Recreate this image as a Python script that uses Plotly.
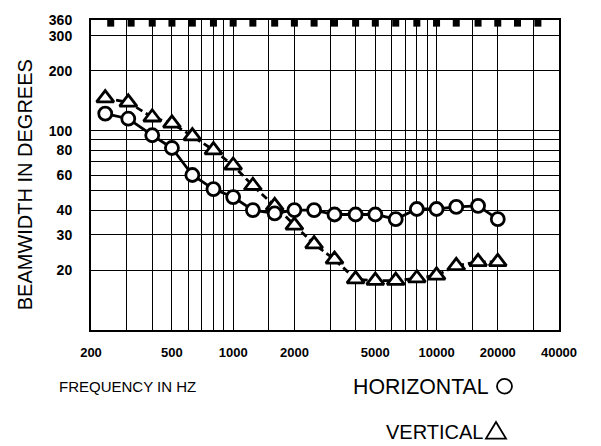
import plotly.graph_objects as go
import math

# ---- data ----
freq = [235, 305, 400, 500, 630, 800, 1000, 1250, 1600, 2000, 2500, 3150,
        4000, 5000, 6300, 8000, 10000, 12500, 16000, 20000]
horizontal = [122, 115, 95, 82, 60, 51, 46.5, 40, 38.5, 40, 40, 38,
              38, 38, 36, 40.5, 40.5, 41.5, 42, 36]
vertical = [146, 139, 117, 109, 94, 80, 67, 53, 42, 33.5, 27, 22.6,
            18, 17.7, 17.7, 18.2, 18.8, 21, 22, 22]

x_grid = [200, 300, 400, 500, 600, 700, 800, 900, 1000, 1500, 2000, 3000, 4000,
          5000, 6000, 7000, 8000, 9000, 10000, 15000, 20000, 30000, 40000]
x_labels = {200: "200", 500: "500", 1000: "1000", 2000: "2000", 5000: "5000",
            10000: "10000", 20000: "20000", 40000: "40000"}
y_grid = [10, 20, 30, 40, 50, 60, 70, 80, 90, 100, 200, 300, 360]
y_labels = {20: "20", 30: "30", 40: "40", 60: "60", 80: "80", 100: "100",
            200: "200", 300: "300", 360: "360"}
third_octave = [200, 250, 315, 400, 500, 630, 800, 1000, 1250, 1600, 2000, 2500,
                3150, 4000, 5000, 6300, 8000, 10000, 12500, 16000, 20000, 25000, 31500]

FONT = "Liberation Sans"
Y_MIN, Y_MAX = 10, 360

W, H = 601, 446
L, R, T, B = 91, 42, 13, 116
pw, ph = W - L - R, H - T - B
px_per_decade = ph / (math.log10(Y_MAX) - math.log10(Y_MIN))
# the 1/3-octave blocks sit 3 px below the top frame
mark_y = Y_MAX * 10 ** (-3.2 / px_per_decade)

fig = go.Figure()
fig.add_trace(go.Scatter(
    x=freq, y=vertical, mode="lines+markers",
    line=dict(color="black", width=2.8, dash="7px,4px"),
    marker=dict(symbol="triangle-up", size=15, color="white",
                line=dict(color="black", width=2.8)),
    showlegend=False, cliponaxis=False))
fig.add_trace(go.Scatter(
    x=freq, y=horizontal, mode="lines+markers",
    line=dict(color="black", width=2.8),
    marker=dict(symbol="circle", size=13, color="white",
                line=dict(color="black", width=2.8)),
    showlegend=False, cliponaxis=False))
fig.add_trace(go.Scatter(
    x=third_octave, y=[mark_y] * len(third_octave), mode="markers",
    marker=dict(symbol="square", size=7, color="black", line=dict(width=0)),
    showlegend=False, cliponaxis=False, hoverinfo="skip"))


def px(x):
    return (x - L) / pw


def py(y):
    return (H - B - y) / ph


fig.update_layout(
    width=W, height=H,
    margin=dict(l=L, r=R, t=T, b=B),
    paper_bgcolor="white", plot_bgcolor="white",
    xaxis=dict(type="log", range=[math.log10(200), math.log10(40000)],
               tickvals=x_grid, ticktext=[x_labels.get(v, "") for v in x_grid],
               showgrid=True, gridcolor="black", gridwidth=1.4,
               showline=True, linecolor="black", linewidth=2, mirror=True,
               ticks="", ticklabelstandoff=9, zeroline=False,
               tickfont=dict(family=FONT, size=13, color="black", weight="bold")),
    yaxis=dict(type="log", range=[math.log10(Y_MIN), math.log10(Y_MAX)],
               tickvals=y_grid, ticktext=[y_labels.get(v, "") for v in y_grid],
               showgrid=True, gridcolor="black", gridwidth=1.4,
               showline=True, linecolor="black", linewidth=2, mirror=True,
               ticks="", ticklabelstandoff=14, zeroline=False,
               tickfont=dict(family=FONT, size=14, color="black", weight="bold")),
)

fig.add_annotation(text="BEAMWIDTH IN DEGREES", xref="paper", yref="paper",
                   x=px(25), y=py(182), textangle=-90, showarrow=False,
                   xanchor="center", yanchor="middle",
                   font=dict(family=FONT, size=20, color="black"))
fig.add_annotation(text="FREQUENCY IN HZ", xref="paper", yref="paper",
                   x=px(57), y=py(388), showarrow=False,
                   xanchor="left", yanchor="middle",
                   font=dict(family=FONT, size=15, color="black"))
fig.add_annotation(text="HORIZONTAL", xref="paper", yref="paper",
                   x=px(351), y=py(388), showarrow=False,
                   xanchor="left", yanchor="middle",
                   font=dict(family=FONT, size=21.3, color="black"))
fig.add_annotation(text="VERTICAL", xref="paper", yref="paper",
                   x=px(384), y=py(434), showarrow=False,
                   xanchor="left", yanchor="middle",
                   font=dict(family=FONT, size=20, color="black"))

# legend glyphs
fig.add_shape(type="circle", xref="paper", yref="paper",
              x0=px(497), x1=px(512), y0=py(395), y1=py(380),
              line=dict(color="black", width=1.8))
fig.add_shape(type="path", xref="paper", yref="paper",
              path=f"M {px(486)},{py(441)} L {px(506)},{py(441)} L {px(496)},{py(424)} Z",
              line=dict(color="black", width=1.8))

fig.write_html("out.html")
